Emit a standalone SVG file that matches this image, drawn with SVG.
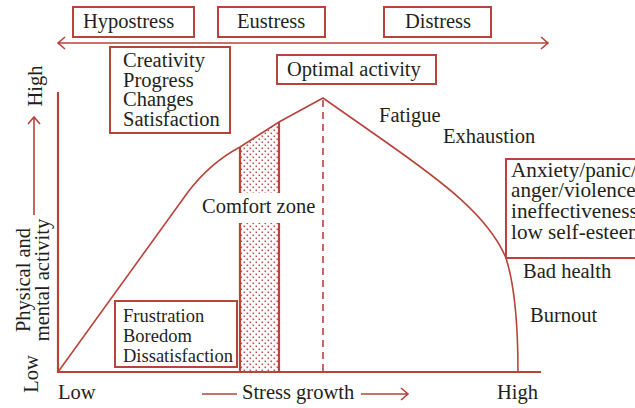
<svg xmlns="http://www.w3.org/2000/svg" width="635" height="408" viewBox="0 0 635 408">
<style>
.t{font-family:"Liberation Serif","Times New Roman",serif;font-size:20.5px;fill:#231f20}
.s{font-size:18.5px}
.a{font-size:21.2px}
.box{fill:#fff;stroke:#b8433b;stroke-width:2}
.ln{fill:none;stroke:#b8433b;stroke-width:1.6}
.ax{fill:none;stroke:#b8433b;stroke-width:2.2}
</style>
<defs>
<pattern id="dots" width="6" height="6" patternUnits="userSpaceOnUse">
<rect x="0.5" y="0.5" width="1.6" height="1.6" fill="#c0504d"/>
<rect x="3.5" y="3.5" width="1.6" height="1.6" fill="#c0504d"/>
</pattern>
</defs>
<rect width="635" height="408" fill="#fff"/>

<g id="connectors">
<path class="ln" d="M58,43 H548 M65,37 L58,43 L65,49 M541,37 L548,43 L541,49"/>
<path class="ax" d="M58,92 V372 H541"/>
<path class="ln" d="M34,215 V117 M28,124 L34,117 L40,124"/>
<path class="ln" d="M202,394 H237 M361,394 H408 M401,388 L408,394 L401,400"/>
</g>

<g id="comfort-zone">
<polygon points="240,147 279,122 279,372 240,372" fill="url(#dots)"/>
<path class="ax" d="M240,147 V372 M279,122 V372"/>
<rect x="200" y="193" width="121" height="30" fill="#fff"/>
<text class="t" x="202" y="213">Comfort zone</text>
</g>

<g id="curve">
<path class="ln" d="M58,372 L188,192 Q210,163 240,147 L279,122 L323,98 L383,140 C440,180 488,215 506,258 C513,280 518,310 518,372"/>
<path class="ln" d="M323,100 V372" stroke-dasharray="7,5"/>
</g>

<g id="hypostress">
<rect class="box" x="73" y="7" width="121" height="30"/>
<text class="t" x="83" y="28">Hypostress</text>
</g>
<g id="eustress">
<rect class="box" x="218" y="7" width="107" height="30"/>
<text class="t" x="237" y="28">Eustress</text>
</g>
<g id="distress">
<rect class="box" x="384" y="7" width="107" height="30"/>
<text class="t" x="405" y="28">Distress</text>
</g>

<g id="creativity">
<rect class="box" x="110" y="47" width="120" height="86"/>
<text class="t" x="123" y="67">Creativity</text>
<text class="t" x="123" y="87">Progress</text>
<text class="t" x="123" y="106">Changes</text>
<text class="t" x="123" y="126">Satisfaction</text>
</g>

<g id="optimal">
<rect class="box" x="277" y="55" width="159" height="29"/>
<text class="t" x="287" y="76">Optimal activity</text>
</g>

<g id="frustration">
<rect class="box" x="115" y="301" width="122" height="66"/>
<text class="t s" x="123" y="322">Frustration</text>
<text class="t s" x="123" y="342">Boredom</text>
<text class="t s" x="123" y="362">Dissatisfaction</text>
</g>

<g id="anxiety">
<rect class="box" x="506" y="159" width="150" height="99"/>
<text class="t a" x="511" y="177">Anxiety/panic/</text>
<text class="t a" x="511" y="197">anger/violence/</text>
<text class="t a" x="511" y="218">ineffectiveness/</text>
<text class="t a" x="511" y="239">low self-esteem</text>
</g>

<g id="labels">
<text class="t" x="379" y="122">Fatigue</text>
<text class="t" x="443" y="143">Exhaustion</text>
<text class="t" x="523" y="278">Bad health</text>
<text class="t" x="530" y="322">Burnout</text>
<text class="t" x="58" y="399">Low</text>
<text class="t" x="242" y="399">Stress growth</text>
<text class="t" x="497" y="399">High</text>
<text class="t" transform="translate(42,86) rotate(-90)" text-anchor="middle">High</text>
<text class="t" transform="translate(38,374) rotate(-90)" text-anchor="middle">Low</text>
<text class="t" transform="translate(30,280) rotate(-90)" text-anchor="middle">Physical and</text>
<text class="t" transform="translate(49,280) rotate(-90)" text-anchor="middle">mental activity</text>
</g>
</svg>
